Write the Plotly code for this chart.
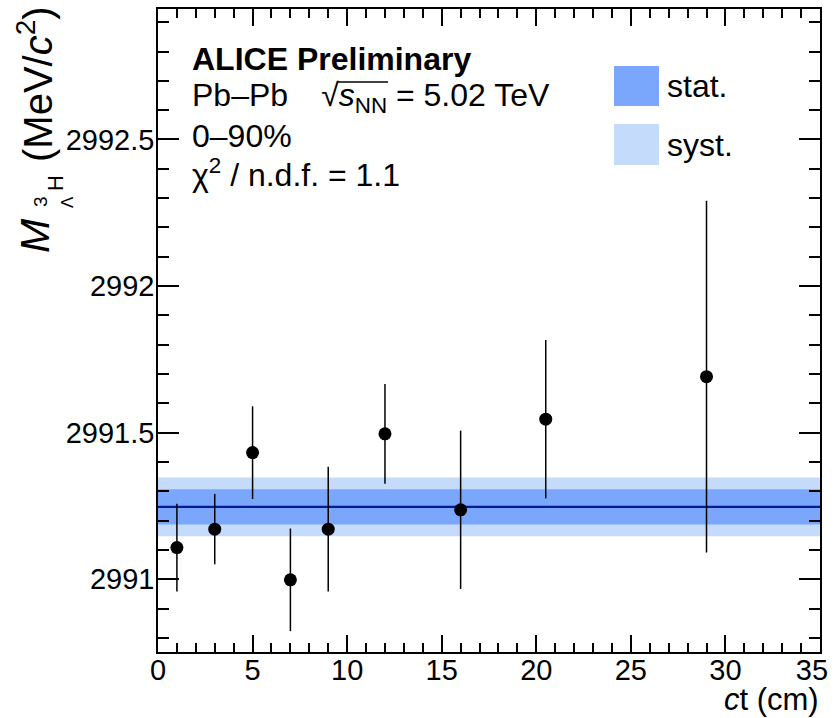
import plotly.graph_objects as go

# Measured hypertriton mass in bins of ct
ct = [1, 3, 5, 7, 9, 12, 16, 20.5, 29]
mass = [2991.108, 2991.171, 2991.432, 2990.998, 2991.171, 2991.496, 2991.237, 2991.546, 2991.691]
mass_err = [0.15, 0.12, 0.158, 0.175, 0.213, 0.17, 0.27, 0.27, 0.60]

# Constant fit over the full ct range
fit_range = [0, 35]
fit_value = 2991.247
fit_stat = 0.06
fit_syst = 0.10

x_range = [0, 35]
y_range = [2990.752, 2992.945]
x_ticks = [0, 5, 10, 15, 20, 25, 30, 35]
# last label padded so it stays inside the page
x_ticktext = ["0", "5", "10", "15", "20", "25", "30", "35\u00a0\u00a0"]
y_ticks = [2991, 2991.5, 2992, 2992.5]
y_ticktext = ["2991", "2991.5", "2992", "2992.5"]

W, H = 834, 718
L, R, T, B = 158, 14, 9, 66
PW, PH = W - L - R, H - T - B

FONT = "Liberation Sans, Arial, Helvetica, sans-serif"
STAT_COL = "rgb(122,167,252)"
SYST_COL = "rgb(197,219,252)"
LINE_COL = "rgb(5,25,150)"
NB = "\u00a0"


def px(xp):
    return (xp - L) / PW


def py(yp):
    return (H - B - yp) / PH


fig = go.Figure()

# systematic band
fig.add_trace(go.Scatter(
    x=[fit_range[0], fit_range[1], fit_range[1], fit_range[0], fit_range[0]],
    y=[fit_value - fit_syst] * 2 + [fit_value + fit_syst] * 2 + [fit_value - fit_syst],
    fill="toself", fillcolor=SYST_COL, line=dict(width=0), mode="lines",
    hoverinfo="skip", showlegend=False))
# statistical band
fig.add_trace(go.Scatter(
    x=[fit_range[0], fit_range[1], fit_range[1], fit_range[0], fit_range[0]],
    y=[fit_value - fit_stat] * 2 + [fit_value + fit_stat] * 2 + [fit_value - fit_stat],
    fill="toself", fillcolor=STAT_COL, line=dict(width=0), mode="lines",
    hoverinfo="skip", showlegend=False))
# fit line
fig.add_trace(go.Scatter(
    x=fit_range, y=[fit_value, fit_value], mode="lines",
    line=dict(color=LINE_COL, width=2.2), showlegend=False))
# data points
fig.add_trace(go.Scatter(
    x=ct, y=mass, mode="markers",
    marker=dict(color="black", size=13, symbol="circle"),
    error_y=dict(type="data", array=mass_err, color="black", thickness=1.5, width=0),
    showlegend=False))

axis_common = dict(
    showline=True, linecolor="black", linewidth=1.5, mirror="ticks",
    ticks="inside", tickcolor="black", tickwidth=1.5,
    showgrid=False, zeroline=False, ticklabeloverflow="allow", automargin=False,
    tickfont=dict(family=FONT, size=29, color="black"),
)

fig.update_xaxes(
    range=x_range, tickvals=x_ticks, ticktext=x_ticktext, ticklen=17,
    minor=dict(ticks="inside", dtick=1, tick0=0, ticklen=9, tickcolor="black", tickwidth=1.5),
    ticklabelstandoff=-9,
    **axis_common)
fig.update_yaxes(
    range=y_range, tickvals=y_ticks, ticktext=y_ticktext, ticklen=21,
    minor=dict(ticks="inside", dtick=0.1, tick0=2991, ticklen=11, tickcolor="black", tickwidth=1.5),
    ticklabelstandoff=-4,
    **axis_common)

ann = []


def text(xp, yp, s, size, xanchor="left", yanchor="middle", angle=0):
    ann.append(dict(x=px(xp), y=py(yp), xref="paper", yref="paper", text=s,
                    showarrow=False, xanchor=xanchor, yanchor=yanchor,
                    textangle=angle, borderpad=0,
                    font=dict(family=FONT, size=size, color="black")))


# header text
text(191, 59, "<b>ALICE Preliminary</b>", 32)
text(191, 97, "Pb–Pb" + NB * 3 + "\u2009√<i>s</i><sub>NN</sub> = 5.02 TeV", 32)
text(191, 136, "0–90%", 32)
text(191, 173, "χ<sup>2</sup> / n.d.f. = 1.1", 32)

# legend labels
text(666, 86, "stat.", 32)
text(666, 145, "syst.", 32)

# x axis title
text(820, 699, "<i>c</i>t (cm)", 31, xanchor="right")

# y axis title, assembled piecewise
text(35, 236, "<i>M</i>", 41, xanchor="center", angle=-90)
text(40, 202, "3", 19, xanchor="center", angle=-90)
text(67, 202, "Λ", 17, xanchor="center", angle=-90)
text(55, 183, "H", 22, xanchor="center", angle=-90)
text(35, 84, "(MeV/<i>c</i><sup>2</sup>)", 40, xanchor="center", angle=-90)

shapes = [
    # legend boxes
    dict(type="rect", xref="paper", yref="paper", x0=px(614), x1=px(659), y0=py(106), y1=py(66),
         fillcolor=STAT_COL, line=dict(width=0)),
    dict(type="rect", xref="paper", yref="paper", x0=px(614), x1=px(659), y0=py(165), y1=py(124),
         fillcolor=SYST_COL, line=dict(width=0)),
    # overline of the square root
    dict(type="line", xref="paper", yref="paper", x0=px(337), x1=px(388), y0=py(82), y1=py(82),
         line=dict(color="black", width=1.5)),
]

fig.update_layout(
    width=W, height=H, margin=dict(l=L, r=R, t=T, b=B),
    paper_bgcolor="white", plot_bgcolor="white",
    annotations=ann, shapes=shapes,
    font=dict(family=FONT),
)

fig.write_html("out.html")
